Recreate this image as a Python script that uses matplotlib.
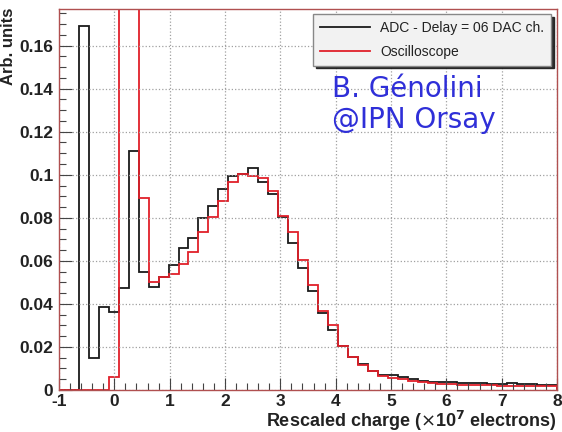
import numpy as np
import matplotlib.pyplot as plt
from matplotlib.ticker import MultipleLocator

plt.rcParams['font.family'] = ['Liberation Sans', 'DejaVu Sans']

# 50 bins from -1 to 8 (x10^7 electrons)
edges = np.linspace(-1, 8, 51)

adc = [0, 0, 0.169, 0.015, 0.0386, 0.0363, 0.0476, 0.111, 0.0546, 0.048,
       0.0526, 0.058, 0.066, 0.0707, 0.080, 0.0856, 0.0933, 0.0992, 0.1005, 0.1031,
       0.0964, 0.0912, 0.0803, 0.0682, 0.0569, 0.0460, 0.036, 0.028, 0.0206, 0.0152,
       0.0121, 0.009, 0.0072, 0.0068, 0.006, 0.005, 0.0044, 0.0039, 0.0038, 0.0036,
       0.0033, 0.0031, 0.0033, 0.0027, 0.0026, 0.0033, 0.0027, 0.0026, 0.0024, 0.0023]

scope = [0, 0, 0, 0, 0, 0.006, 0.30, 0.25, 0.0893, 0.0504,
         0.0526, 0.054, 0.0586, 0.0639, 0.0732, 0.0803, 0.0876, 0.0964, 0.1005, 0.0995,
         0.0985, 0.0923, 0.0809, 0.0736, 0.0605, 0.0486, 0.0365, 0.0302, 0.0206, 0.0152,
         0.0116, 0.009, 0.0065, 0.0058, 0.005, 0.0043, 0.0037, 0.0032, 0.0030, 0.0028,
         0.0025, 0.0024, 0.0022, 0.0021, 0.002, 0.002, 0.0019, 0.0019, 0.0018, 0.0018]

xticks = [-1, 0, 1, 2, 3, 4, 5, 6, 7, 8]
yticks = [0, 0.02, 0.04, 0.06, 0.08, 0.1, 0.12, 0.14, 0.16]
ylabels = ['0', '0.02', '0.04', '0.06', '0.08', '0.1', '0.12', '0.14', '0.16']

fig = plt.figure(figsize=(5.62, 4.32), dpi=100)
ax = fig.add_axes([59/562, 1-390/432, 498/562, 381/432])

ax.stairs(adc, edges, color='#1a1a1a', lw=1.3, label='ADC - Delay = 06 DAC ch.')
ax.stairs(scope, edges, color='#e0202a', lw=1.3, label='Oscilloscope')

ax.set_xlim(-1, 8)
ax.set_ylim(0, 0.177)
ax.set_xticks(xticks)
ax.set_xticklabels([str(t) for t in xticks])
ax.set_yticks(yticks)
ax.set_yticklabels(ylabels)
ax.xaxis.set_minor_locator(MultipleLocator(0.2))
ax.yaxis.set_minor_locator(MultipleLocator(0.005))
ax.tick_params(which='both', direction='in', color='#444444', width=0.8)
ax.tick_params(which='major', length=9, labelsize=12.5)
ax.tick_params(axis='x', which='major', pad=3)
ax.tick_params(axis='y', which='major', pad=4)
ax.tick_params(which='minor', length=5)
for lab in ax.get_xticklabels() + ax.get_yticklabels():
    lab.set_fontweight('bold')
    lab.set_color('#222222')

ax.grid(True, which='major', color='#a0a0a0', ls=':', lw=0.9)
for s in ax.spines.values():
    s.set_color('#b05050')
    s.set_linewidth(1)

leg = ax.legend(loc='upper right', bbox_to_anchor=(0.988, 0.987), borderaxespad=0,
                fancybox=False, shadow={'color': '0.1', 'alpha': 0.9},
                facecolor='#f2f2f2', edgecolor='#888888', framealpha=1,
                fontsize=10, handlelength=3.6, borderpad=0.5, labelspacing=0.7,
                handletextpad=0.7)
for t in leg.get_texts():
    t.set_color('#222222')

fig.text(9/562, 1-8/432, 'Arb. units', rotation=90, ha='center', va='top',
         fontsize=12, fontweight='bold', color='#222222')
fig.text(557/562, 1-427/432, r'Rescaled charge ($\times$10$^{\mathbf{7}}$ electrons)',
         ha='right', va='baseline', fontsize=13, fontweight='bold', color='#222222')

fig.text(332/562, 1-97/432, 'B. Génolini', fontsize=20, color='#2f2fd8',
         family='DejaVu Sans', va='baseline')
fig.text(332/562, 1-128/432, '@IPN Orsay', fontsize=20, color='#2f2fd8',
         family='DejaVu Sans', va='baseline')

fig.savefig('out.png', dpi=100)
